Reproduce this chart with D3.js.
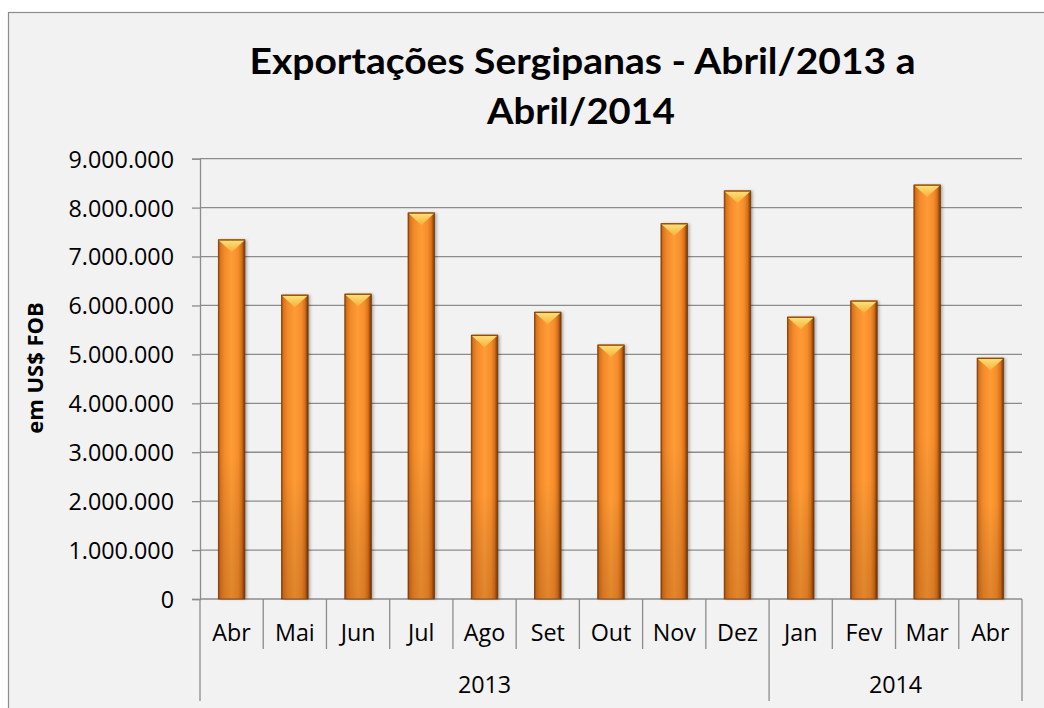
<!DOCTYPE html>
<html>
<head>
<meta charset="utf-8">
<script src="https://cdn.jsdelivr.net/npm/d3@7"></script>
<style>
  html, body { margin: 0; padding: 0; background: #ffffff; }
  svg { display: block; }
</style>
</head>
<body>
<svg id="chart" width="1044" height="708"></svg>
<script>
// ---- data ----
const months = ["Abr", "Mai", "Jun", "Jul", "Ago", "Set", "Out", "Nov", "Dez", "Jan", "Fev", "Mar", "Abr"];
const years = ["2013", "2013", "2013", "2013", "2013", "2013", "2013", "2013", "2013", "2014", "2014", "2014", "2014"];
const values = [7340000, 6210000, 6230000, 7890000, 5390000, 5860000, 5190000, 7670000, 8340000, 5760000, 6090000, 8460000, 4920000];
const yTicks = [0, 1000000, 2000000, 3000000, 4000000, 5000000, 6000000, 7000000, 8000000, 9000000];
const titleLines = ["Exportações Sergipanas - Abril/2013 a", "Abril/2014"];
const yAxisTitle = "em US$ FOB";

// ---- layout ----
const W = 1044, H = 708;
const plot = { left: 200, right: 1022, top: 158.7, bottom: 599 };
const svg = d3.select("#chart");
const font = "'Open Sans', 'Noto Sans', sans-serif";

const defs = svg.append("defs");
const gBar = defs.append("linearGradient").attr("id", "barGrad").attr("x1", "0").attr("x2", "1").attr("y1", "0").attr("y2", "0");
[["0%", "#8a430c"], ["7%", "#d9731b"], ["22%", "#f28a2a"], ["50%", "#ff9c36"], ["75%", "#f58d2b"], ["88%", "#d87018"], ["100%", "#6e3406"]]
  .forEach(([o, c]) => gBar.append("stop").attr("offset", o).attr("stop-color", c));
const gShade = defs.append("linearGradient").attr("id", "barShade").attr("x1", "0").attr("x2", "0").attr("y1", "0").attr("y2", "1");
[["0%", "#ffffff", 0.0], ["60%", "#000000", 0.0], ["100%", "#5a2000", 0.18]]
  .forEach(([o, c, a]) => gShade.append("stop").attr("offset", o).attr("stop-color", c).attr("stop-opacity", a));
const gTop = defs.append("linearGradient").attr("id", "topGrad").attr("x1", "0").attr("x2", "0").attr("y1", "0").attr("y2", "1");
[["0%", "#ffe27a"], ["100%", "#f6b13a"]]
  .forEach(([o, c]) => gTop.append("stop").attr("offset", o).attr("stop-color", c));
const shadow = defs.append("filter").attr("id", "shadow").attr("x", "-30%").attr("y", "-10%").attr("width", "160%").attr("height", "120%");
shadow.append("feDropShadow").attr("dx", 2).attr("dy", 0).attr("stdDeviation", 1.5).attr("flood-color", "#000").attr("flood-opacity", 0.3);

// chart area background & frame
svg.append("rect").attr("x", 8.5).attr("y", 12.5).attr("width", W + 20).attr("height", H + 20)
  .attr("fill", "#f2f2f2").attr("stroke", "#8c8c8c").attr("stroke-width", 1.2);

// ---- scales ----
const x = d3.scaleBand().domain(d3.range(months.length)).range([plot.left, plot.right]).padding(0);
const y = d3.scaleLinear().domain([0, 9000000]).range([plot.bottom, plot.top]);
const locale = d3.formatLocale({ decimal: ",", thousands: ".", grouping: [3], currency: ["", ""] });
const fmt = locale.format(",d");

// gridlines
svg.append("g").selectAll("line").data(yTicks.filter(d => d > 0)).join("line")
  .attr("x1", plot.left).attr("x2", plot.right)
  .attr("y1", d => y(d)).attr("y2", d => y(d))
  .attr("stroke", "#8c8c8c").attr("stroke-width", 1.3);

// y axis
const yAxis = svg.append("g").attr("transform", `translate(${plot.left},0)`)
  .call(d3.axisLeft(y).tickValues(yTicks).tickFormat(fmt).tickSize(8).tickPadding(18));
yAxis.select(".domain").attr("stroke", "#8c8c8c").attr("stroke-width", 1.3);
yAxis.selectAll(".tick line").attr("stroke", "#8c8c8c").attr("stroke-width", 1.3);
yAxis.selectAll(".tick text").attr("font-family", font).attr("font-size", 23.3).attr("fill", "#000").attr("dy", "0.36em");

// x axis baseline
svg.append("line").attr("x1", plot.left).attr("x2", plot.right).attr("y1", y(0)).attr("y2", y(0))
  .attr("stroke", "#8c8c8c").attr("stroke-width", 1.3);

// category separators
const seps = d3.range(months.length + 1);
svg.append("g").selectAll("line").data(seps).join("line")
  .attr("x1", i => i < months.length ? x(i) : plot.right)
  .attr("x2", i => i < months.length ? x(i) : plot.right)
  .attr("y1", y(0))
  .attr("y2", i => (i === 0 || i === months.length || years[i] !== years[i - 1]) ? 701 : 649)
  .attr("stroke", "#8c8c8c").attr("stroke-width", 1.3);

// month labels
svg.append("g").selectAll("text").data(months).join("text")
  .attr("x", (d, i) => x(i) + x.bandwidth() / 2).attr("y", 641)
  .attr("text-anchor", "middle").attr("font-family", font).attr("font-size", 23.3).attr("fill", "#000")
  .text(d => d);

// year labels
const yearGroups = d3.groups(months.map((m, i) => ({ i, yr: years[i] })), d => d.yr);
svg.append("g").selectAll("text").data(yearGroups).join("text")
  .attr("x", ([yr, arr]) => (x(arr[0].i) + x(arr[arr.length - 1].i) + x.bandwidth()) / 2)
  .attr("y", 693)
  .attr("text-anchor", "middle").attr("font-family", font).attr("font-size", 23.3).attr("fill", "#000")
  .text(([yr]) => yr);

// bars
const bw = x.bandwidth() * 0.42;
const bars = svg.append("g").selectAll("g").data(values).join("g")
  .attr("transform", (d, i) => `translate(${x(i) + (x.bandwidth() - bw) / 2},${y(d)})`);
bars.append("rect").attr("width", bw).attr("height", d => y(0) - y(d))
  .attr("fill", "url(#barGrad)").attr("filter", "url(#shadow)");
bars.append("rect").attr("width", bw).attr("height", d => y(0) - y(d))
  .attr("fill", "url(#barShade)");
bars.append("path")
  .attr("d", `M0,0 L${bw},0 L${bw / 2},12 Z`)
  .attr("fill", "url(#topGrad)");
bars.append("path")
  .attr("d", `M0,0 L${bw},0`)
  .attr("stroke", "#c77a1c").attr("stroke-width", 1.5);
bars.append("rect").attr("width", bw).attr("height", d => y(0) - y(d))
  .attr("fill", "none").attr("stroke", "#7a3c0c").attr("stroke-width", 0.8);

// title
const title = svg.append("g").attr("font-family", "Lato, 'Open Sans', sans-serif").attr("font-weight", "bold")
  .attr("font-size", 37).attr("fill", "#000").attr("text-anchor", "middle");
title.append("text").attr("x", 582.5).attr("y", 73.5).attr("textLength", 666).attr("lengthAdjust", "spacingAndGlyphs").text(titleLines[0]);
title.append("text").attr("x", 581).attr("y", 123.5).attr("textLength", 188).attr("lengthAdjust", "spacingAndGlyphs").text(titleLines[1]);

// y axis title
svg.append("text").attr("transform", `translate(43,368) rotate(-90)`)
  .attr("text-anchor", "middle").attr("font-family", font).attr("font-weight", "bold")
  .attr("font-size", 22).attr("fill", "#000").text(yAxisTitle);
</script>
</body>
</html>
